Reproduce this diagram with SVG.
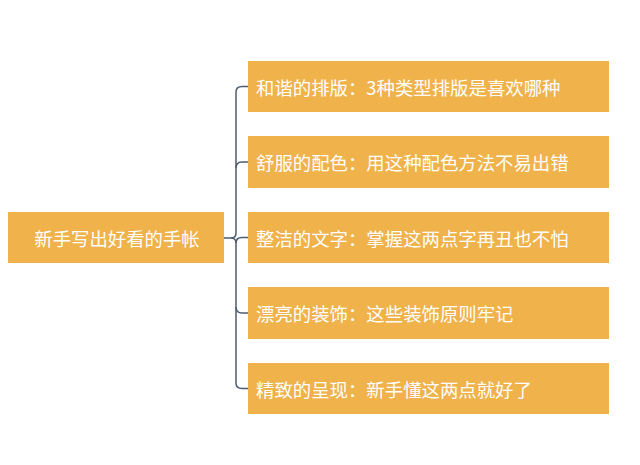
<svg xmlns="http://www.w3.org/2000/svg" width="640" height="465" viewBox="0 0 640 465">
<style>
.box{fill:#f0b24a}
.t{fill:#ffffff;font-family:"Noto Sans CJK SC","Noto Sans",sans-serif;font-size:18.4px;dominant-baseline:central}
.c{fill:none;stroke:#4e5d72;stroke-width:1.5}
</style>
<rect width="640" height="465" fill="#ffffff"/>
<g id="connectors">
<path class="c" d="M224 238 H231 Q236 238 236 233 V92 Q236 86.5 242 86.5 H248"/>
<path class="c" d="M231 238 Q236 238 236 243 V383 Q236 388.5 242 388.5 H248"/>
<path class="c" d="M236 168 Q236 162 242 162 H248"/>
<path class="c" d="M236 243 Q236 237.5 242 237.5 H248"/>
<path class="c" d="M236 307 Q236 313 242 313 H248"/>
</g>
<g id="root">
<rect class="box" x="8" y="212" width="216" height="51"/>
<text class="t" x="117" y="238" text-anchor="middle">新手写出好看的手帐</text>
</g>
<g id="n1">
<rect class="box" x="248" y="61" width="361" height="51"/>
<text class="t" x="256" y="87">和谐的排版：3种类型排版是喜欢哪种</text>
</g>
<g id="n2">
<rect class="box" x="248" y="136" width="361" height="52"/>
<text class="t" x="256" y="162">舒服的配色：用这种配色方法不易出错</text>
</g>
<g id="n3">
<rect class="box" x="248" y="212" width="361" height="51"/>
<text class="t" x="256" y="238">整洁的文字：掌握这两点字再丑也不怕</text>
</g>
<g id="n4">
<rect class="box" x="248" y="287" width="361" height="52"/>
<text class="t" x="256" y="313">漂亮的装饰：这些装饰原则牢记</text>
</g>
<g id="n5">
<rect class="box" x="248" y="363" width="361" height="51"/>
<text class="t" x="256" y="389">精致的呈现：新手懂这两点就好了</text>
</g>
</svg>
